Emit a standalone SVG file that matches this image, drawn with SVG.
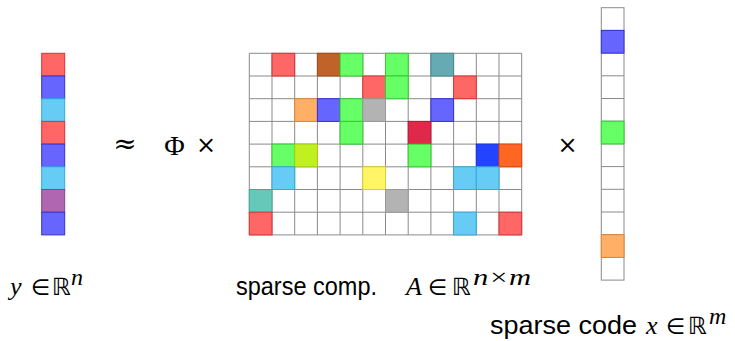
<svg xmlns="http://www.w3.org/2000/svg" width="735" height="341" viewBox="0 0 735 341">
<style>
.grid{fill:none;stroke:#8a8a8a;stroke-width:1}
.bg{fill:#fff}
.red{fill:#ff6666;stroke:#dd3333}
.blue{fill:#6666ff;stroke:#3333cc}
.cyan{fill:#66ccf5;stroke:#33aadd}
.green{fill:#66ff66;stroke:#33cc33}
.orange{fill:#ffb066;stroke:#dd8833}
.purple{fill:#b066b0;stroke:#884488}
.brown{fill:#c0632a;stroke:#a04a18}
.teal{fill:#66aab4;stroke:#448a94}
.gray{fill:#b3b3b3;stroke:#999999}
.crimson{fill:#e0284a;stroke:#c01030}
.lime{fill:#c0f020;stroke:#a0d010}
.dblue{fill:#2244ff;stroke:#1133dd}
.ored{fill:#ff6622;stroke:#dd4411}
.yellow{fill:#fff566;stroke:#ddcc33}
.tgreen{fill:#66c8b8;stroke:#44a898}
rect{stroke-width:1}
.sans{font-family:"Liberation Sans","DejaVu Sans",sans-serif;fill:#000;font-size:25px}
.math{font-family:"Liberation Serif","DejaVu Serif",serif;font-style:italic;fill:#000;font-size:26px}
.sup{font-family:"Liberation Serif","DejaVu Serif",serif;font-style:italic;fill:#000;font-size:24px}
.elem{font-family:"DejaVu Sans",sans-serif;fill:#000;font-size:22px}
.rr{font-family:"DejaVu Sans",sans-serif;fill:#000;font-size:24px}
.op{font-family:"DejaVu Serif",serif;fill:#000}
.phi{font-family:"Liberation Serif","DejaVu Serif",serif;fill:#000}
</style>

<g id="y-vector">
  <rect class="red" x="41.7" y="53.3" width="23" height="22.7"/>
  <rect class="blue" x="41.7" y="76.0" width="23" height="22.7"/>
  <rect class="cyan" x="41.7" y="98.7" width="23" height="22.7"/>
  <rect class="red" x="41.7" y="121.4" width="23" height="22.7"/>
  <rect class="blue" x="41.7" y="144.1" width="23" height="22.7"/>
  <rect class="cyan" x="41.7" y="166.8" width="23" height="22.7"/>
  <rect class="purple" x="41.7" y="189.5" width="23" height="22.7"/>
  <rect class="blue" x="41.7" y="212.2" width="23" height="22.7"/>
</g>

<g id="matrix-A">
  <rect class="bg" x="249.3" y="53.3" width="272.4" height="181.6"/>
  <path class="grid" d="M249.3 53.3V234.9M272 53.3V234.9M294.7 53.3V234.9M317.4 53.3V234.9M340.1 53.3V234.9M362.8 53.3V234.9M385.5 53.3V234.9M408.2 53.3V234.9M430.9 53.3V234.9M453.6 53.3V234.9M476.3 53.3V234.9M499 53.3V234.9M521.7 53.3V234.9M249.3 53.3H521.7M249.3 76H521.7M249.3 98.7H521.7M249.3 121.4H521.7M249.3 144.1H521.7M249.3 166.8H521.7M249.3 189.5H521.7M249.3 212.2H521.7M249.3 234.9H521.7"/>
  <!-- row 0 -->
  <rect class="red" x="272" y="53.3" width="22.7" height="22.7"/>
  <rect class="brown" x="317.4" y="53.3" width="22.7" height="22.7"/>
  <rect class="green" x="340.1" y="53.3" width="22.7" height="22.7"/>
  <rect class="green" x="385.5" y="53.3" width="22.7" height="22.7"/>
  <rect class="teal" x="430.9" y="53.3" width="22.7" height="22.7"/>
  <!-- row 1 -->
  <rect class="red" x="362.8" y="76" width="22.7" height="22.7"/>
  <rect class="green" x="385.5" y="76" width="22.7" height="22.7"/>
  <rect class="red" x="453.6" y="76" width="22.7" height="22.7"/>
  <!-- row 2 -->
  <rect class="orange" x="294.7" y="98.7" width="22.7" height="22.7"/>
  <rect class="blue" x="317.4" y="98.7" width="22.7" height="22.7"/>
  <rect class="green" x="340.1" y="98.7" width="22.7" height="22.7"/>
  <rect class="gray" x="362.8" y="98.7" width="22.7" height="22.7"/>
  <rect class="blue" x="430.9" y="98.7" width="22.7" height="22.7"/>
  <!-- row 3 -->
  <rect class="green" x="340.1" y="121.4" width="22.7" height="22.7"/>
  <rect class="crimson" x="408.2" y="121.4" width="22.7" height="22.7"/>
  <!-- row 4 -->
  <rect class="green" x="272" y="144.1" width="22.7" height="22.7"/>
  <rect class="lime" x="294.7" y="144.1" width="22.7" height="22.7"/>
  <rect class="green" x="408.2" y="144.1" width="22.7" height="22.7"/>
  <rect class="dblue" x="476.3" y="144.1" width="22.7" height="22.7"/>
  <rect class="ored" x="499" y="144.1" width="22.7" height="22.7"/>
  <!-- row 5 -->
  <rect class="cyan" x="272" y="166.8" width="22.7" height="22.7"/>
  <rect class="yellow" x="362.8" y="166.8" width="22.7" height="22.7"/>
  <rect class="cyan" x="453.6" y="166.8" width="22.7" height="22.7"/>
  <rect class="cyan" x="476.3" y="166.8" width="22.7" height="22.7"/>
  <!-- row 6 -->
  <rect class="tgreen" x="249.3" y="189.5" width="22.7" height="22.7"/>
  <rect class="gray" x="385.5" y="189.5" width="22.7" height="22.7"/>
  <!-- row 7 -->
  <rect class="red" x="249.3" y="212.2" width="22.7" height="22.7"/>
  <rect class="cyan" x="453.6" y="212.2" width="22.7" height="22.7"/>
  <rect class="red" x="499" y="212.2" width="22.7" height="22.7"/>
</g>

<g id="x-vector">
  <rect class="bg" x="601.3" y="7.7" width="22.7" height="272.4" stroke="#8a8a8a"/>
  <path class="grid" d="M601.3 30.4H624M601.3 53.1H624M601.3 75.8H624M601.3 98.5H624M601.3 121.2H624M601.3 143.9H624M601.3 166.6H624M601.3 189.3H624M601.3 212H624M601.3 234.7H624M601.3 257.4H624"/>
  <rect class="blue" x="601.3" y="30.4" width="22.7" height="22.7"/>
  <rect class="green" x="601.3" y="121.2" width="22.7" height="22.7"/>
  <rect class="orange" x="601.3" y="234.7" width="22.7" height="22.7"/>
</g>

<g id="operators">
  <text class="op" x="125" y="153" font-size="28" text-anchor="middle">≈</text>
  <text class="phi" x="174.5" y="155" font-size="28" text-anchor="middle">Φ</text>
  <text class="op" x="206" y="153" font-size="24" text-anchor="middle">×</text>
  <text class="op" x="567.5" y="153" font-size="24" text-anchor="middle">×</text>
</g>

<g id="labels">
  <text class="math" x="10" y="295">y</text>
  <text class="elem" x="31" y="295">∈</text>
  <text class="rr" x="52" y="295">ℝ</text>
  <text class="sup" x="71" y="285">n</text>

  <text class="sans" x="236" y="295" textLength="141" lengthAdjust="spacingAndGlyphs">sparse comp.</text>
  <text class="math" x="406" y="295">A</text>
  <text class="elem" x="428" y="295">∈</text>
  <text class="rr" x="452" y="295">ℝ</text>
  <text class="sup" x="473" y="285" textLength="58" lengthAdjust="spacingAndGlyphs">n×m</text>

  <text class="sans" x="490" y="334" textLength="147" lengthAdjust="spacingAndGlyphs">sparse code</text>
  <text class="math" x="646" y="334">x</text>
  <text class="elem" x="666" y="334">∈</text>
  <text class="rr" x="688" y="334">ℝ</text>
  <text class="sup" x="709" y="324">m</text>
</g>
</svg>
